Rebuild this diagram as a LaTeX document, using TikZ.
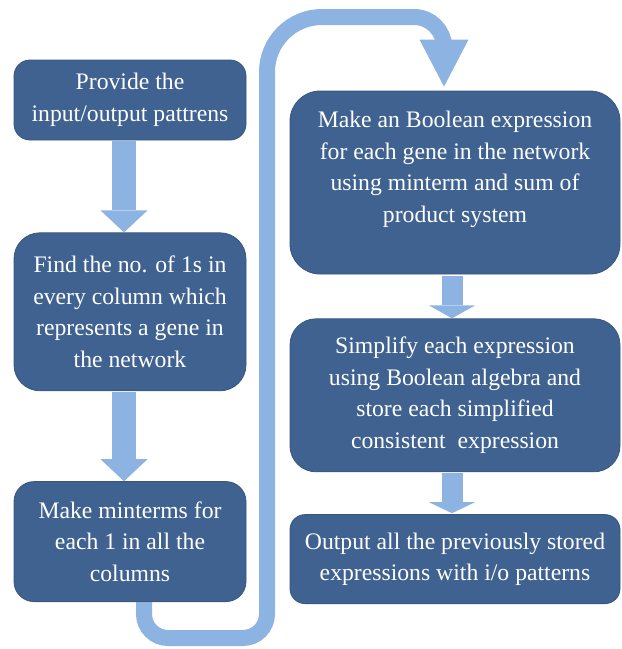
\documentclass[tikz,border=0pt]{standalone}
\usepackage{fontspec}
\setmainfont{Liberation Serif}
\usepackage{tikz}
\usetikzlibrary{positioning, arrows.meta}
\definecolor{boxblue}{RGB}{63,98,145}
\definecolor{boxline}{RGB}{55,86,128}
\definecolor{arrowblue}{RGB}{141,179,226}

\begin{document}
\begin{tikzpicture}[
  x=1pt, y=-1pt,
  stepbox/.style={draw=boxline, line width=0.8pt, fill=boxblue, align=center,
               text=white, font=\fontsize{23.7}{31.5}\selectfont, inner sep=0pt},
  blockarrow/.style={draw=arrowblue, line width=#1},
  blockarrow/.default=24pt,
]
\useasboundingbox (0,0) rectangle (622,649);
% left column
\node[stepbox, minimum width=232pt, minimum height=80pt, rounded corners=16pt] (prov) at (130,100)
  {Provide the\\input/output pattrens};
\node[stepbox, minimum width=232pt, minimum height=158pt, rounded corners=26pt, below=92pt of prov] (find)
  {Find the no. of 1s in\\every column which\\represents a gene in\\the network};
\node[stepbox, minimum width=232pt, minimum height=120pt, rounded corners=20pt, below=90pt of find] (mint)
  {Make minterms for\\each 1 in all the\\columns};
% right column
\node[stepbox, minimum width=330pt, minimum height=183pt, rounded corners=30pt] (bool) at (455,182.5)
  {Make an Boolean expression\\for each gene in the network\\using minterm and sum of\\product system\\~};
\node[stepbox, minimum width=330pt, minimum height=153pt, rounded corners=26pt, below=44pt of bool] (simp)
  {Simplify each expression\\using Boolean algebra and\\store each simplified\\consistent\ \ expression};
\node[stepbox, minimum width=330pt, minimum height=89pt, rounded corners=15pt, below=42pt of simp] (outp)
  {Output all the previously stored\\expressions with i/o patterns};

% block arrows
\draw[blockarrow, -{Triangle[width=47pt, length=22pt, line width=0pt]}]
  ([xshift=-6pt, yshift=-1pt]prov.south) -- ([xshift=-6pt]find.north);
\draw[blockarrow, -{Triangle[width=47pt, length=22pt, line width=0pt]}]
  ([xshift=-6pt, yshift=-1pt]find.south) -- ([xshift=-6pt]mint.north);
\draw[blockarrow=21pt, -{Triangle[width=46pt, length=13pt, line width=0pt]}]
  ([xshift=-3pt, yshift=-2pt]bool.south) -- ([xshift=-3pt]simp.north);
\draw[blockarrow=21pt, -{Triangle[width=46pt, length=11pt, line width=0pt]}]
  ([xshift=-3pt, yshift=-1pt]simp.south) -- ([xshift=-3pt, yshift=1pt]outp.north);

% loop from left column to right column
\coordinate (lb1) at (144,638);
\coordinate (lb2) at (267,638);
\coordinate (lt1) at (267,17);
\coordinate (lt2) at (444,17);
\draw[blockarrow=16pt, -{Triangle[width=49pt, length=47pt, line width=0pt]}]
  ([xshift=14pt]mint.south) [rounded corners=24pt] -- (lb1) -- (lb2)
  [rounded corners=55pt] -- (lt1) [rounded corners=30pt] -- (lt2)
  -- ([xshift=-11pt, yshift=4pt]bool.north);
\end{tikzpicture}
\end{document}
